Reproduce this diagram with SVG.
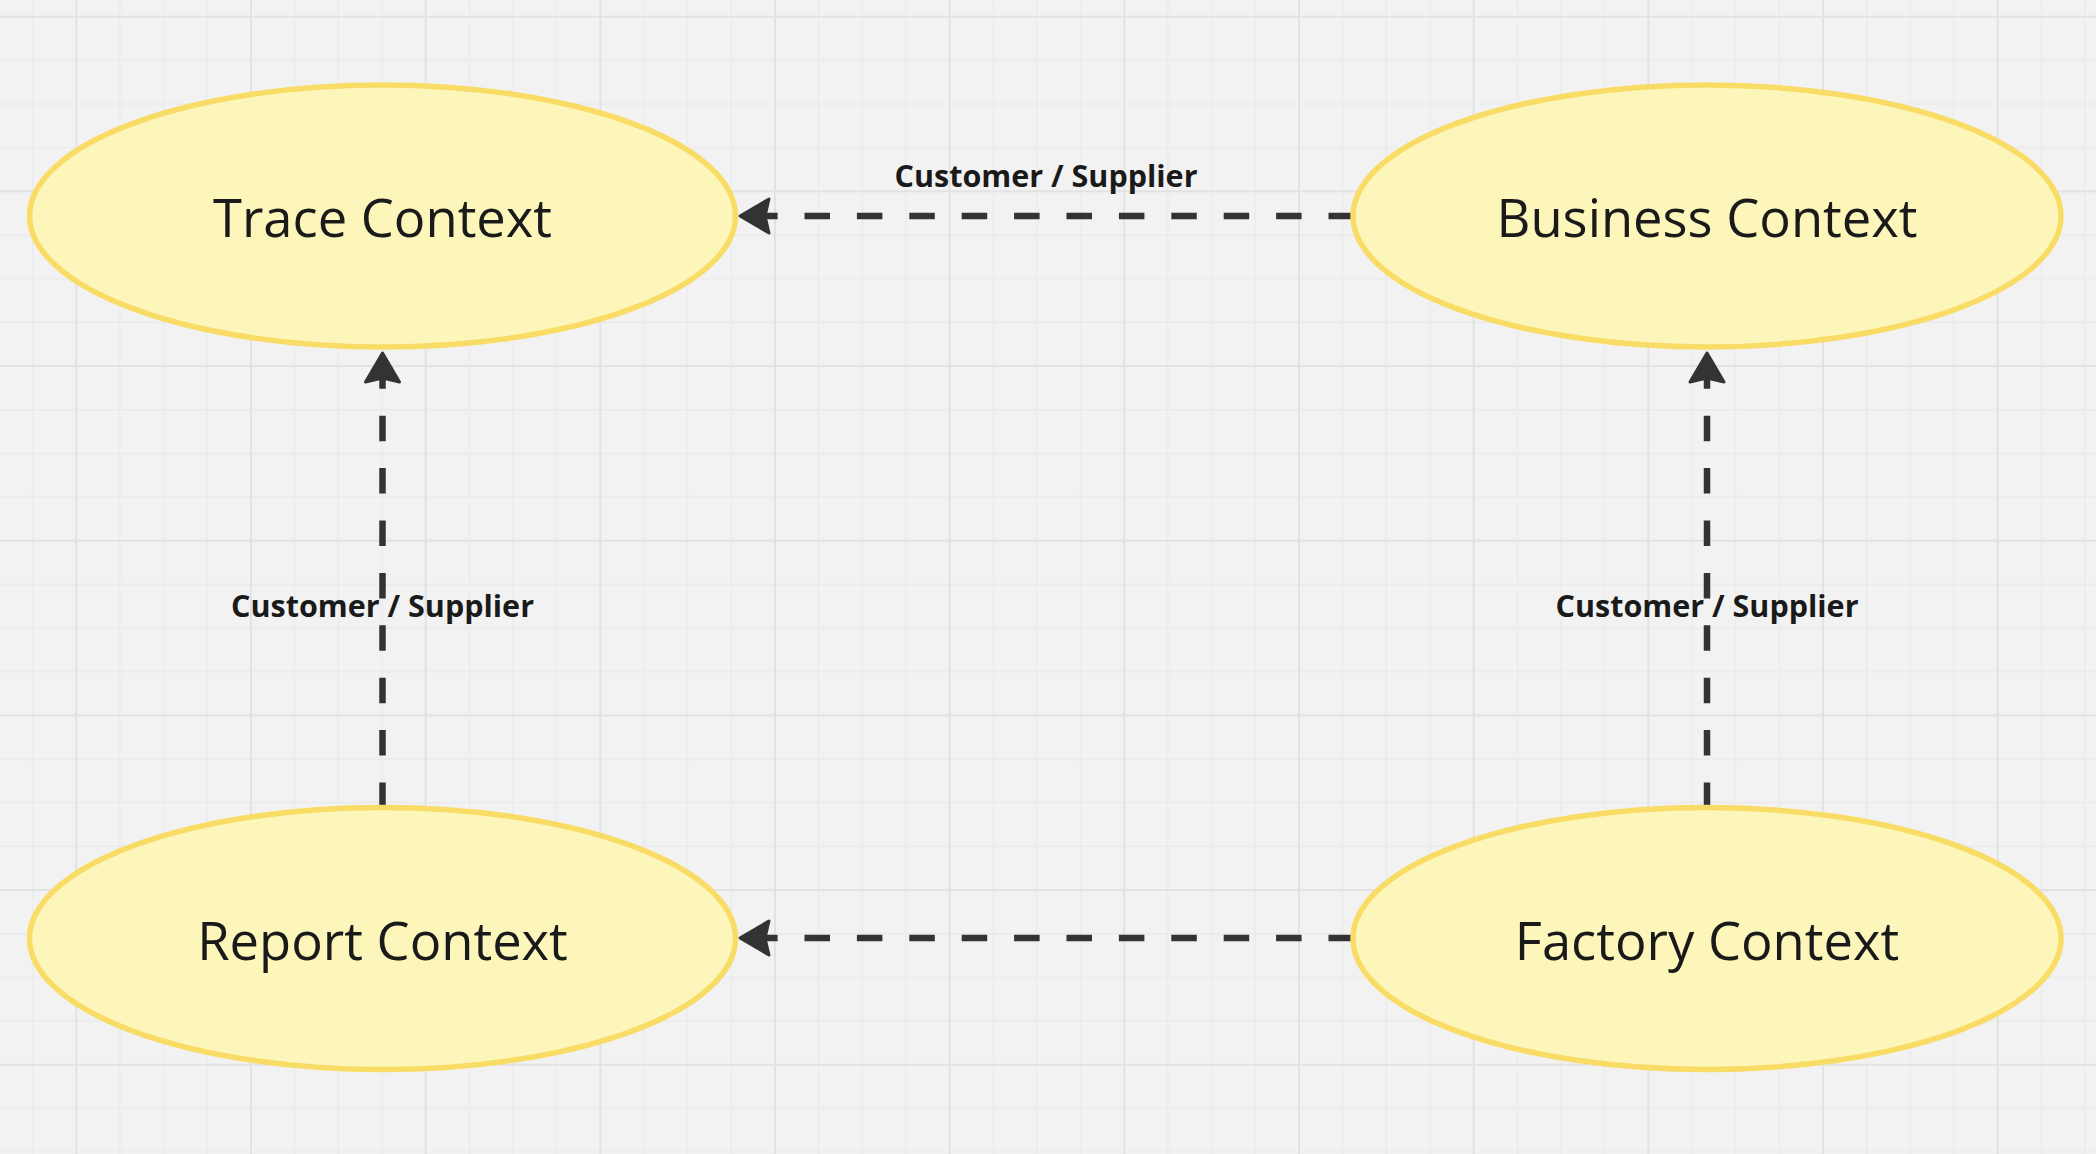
<svg xmlns="http://www.w3.org/2000/svg" width="2096" height="1154" viewBox="0 0 2096 1154">
  <defs>
    <pattern id="grid" patternUnits="userSpaceOnUse" x="75.3" y="15.7" width="174.67" height="174.67">
      <path d="M44.67 0V174.67M88.33 0V174.67M132 0V174.67M0 44.67H174.67M0 88.33H174.67M0 132H174.67" stroke="#eaeaea" stroke-width="1.3" fill="none"/>
      <path d="M1 0V174.67M0 1H174.67" stroke="#e2e2e2" stroke-width="2" fill="none"/>
    </pattern>
    <marker id="arrow" markerUnits="userSpaceOnUse" viewBox="-4 -22 40 44" markerWidth="40" markerHeight="44" refX="4" refY="0" orient="auto">
      <path d="M1 -17 L30 0 L1 17 L5 0 Z" fill="#333333" stroke="#333333" stroke-width="3" stroke-linejoin="round"/>
    </marker>
    <style>
      .node ellipse { fill: #fdf6bb; stroke: #f9dc66; stroke-width: 5.5; }
      .node text { font-family: "Open Sans", "Noto Sans", sans-serif; font-size: 52.5px; fill: #1a1a1a; text-anchor: middle; }
      .conn { fill: none; stroke: #333333; stroke-width: 6.5; stroke-dasharray: 25.5 26.9; marker-end: url(#arrow); }
      .label { font-family: "Open Sans", "Noto Sans", sans-serif; font-size: 30.5px; font-weight: 700; fill: #1a1a1a; text-anchor: middle; }
    </style>
  </defs>
  <rect x="0" y="0" width="2096" height="1154" fill="#f2f2f2"/>
  <rect x="0" y="0" width="2096" height="1154" fill="url(#grid)"/>

  <g id="connectors">
    <path class="conn" d="M1354 216 H766"/>
    <path class="conn" d="M382.5 808 V379"/>
    <path class="conn" d="M1707 808 V379"/>
    <path class="conn" d="M1354 938 H766"/>
    <text class="label" x="1046" y="187">Customer / Supplier</text>
    <text class="label" x="382.5" y="617">Customer / Supplier</text>
    <text class="label" x="1707" y="617">Customer / Supplier</text>
  </g>

  <g id="trace-context" class="node">
    <ellipse cx="382.5" cy="216" rx="353" ry="131"/>
    <text x="382.5" y="237">Trace Context</text>
  </g>
  <g id="business-context" class="node">
    <ellipse cx="1707" cy="216" rx="354" ry="131"/>
    <text x="1707" y="237">Business Context</text>
  </g>
  <g id="report-context" class="node">
    <ellipse cx="382.5" cy="938.5" rx="353" ry="131"/>
    <text x="382.5" y="960">Report Context</text>
  </g>
  <g id="factory-context" class="node">
    <ellipse cx="1707" cy="938.5" rx="354" ry="131"/>
    <text x="1707" y="960">Factory Context</text>
  </g>
</svg>
